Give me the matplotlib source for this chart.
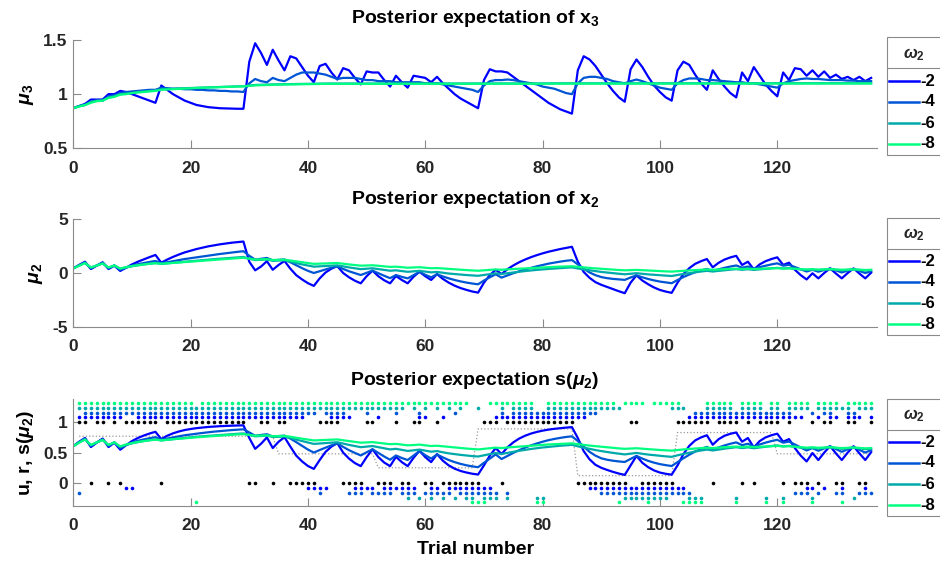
import numpy as np
import matplotlib
matplotlib.use('Agg')
import matplotlib.pyplot as plt
from matplotlib.lines import Line2D
from matplotlib.patches import Rectangle

# ---------------- data ----------------
omega_labels = ['-2', '-4', '-6', '-8']
series_colors = [(0, 0, 1), (0, 1/3, 5/6), (0, 2/3, 2/3), (0, 1, 0.5)]

# trajectory time points 0..136
t_traj = list(range(0, 137))
# trial numbers 1..136
trials = list(range(1, 137))

mu3_w2 = [0.87,
 0.89, 0.91, 0.95, 0.95, 0.95, 1.0, 1.0, 1.03, 1.02, 1.0,
 0.98, 0.96, 0.94, 0.92, 1.08, 1.04, 1.0, 0.97, 0.94, 0.92,
 0.9, 0.89, 0.88, 0.875, 0.87, 0.868, 0.866, 0.865, 0.865, 1.3,
 1.47, 1.38, 1.27, 1.41, 1.31, 1.22, 1.35, 1.33, 1.25, 1.17,
 1.11, 1.26, 1.28, 1.2, 1.135, 1.24, 1.22, 1.15, 1.09, 1.21,
 1.2, 1.2, 1.13, 1.07, 1.17, 1.11, 1.06, 1.17, 1.16, 1.15,
 1.11, 1.16, 1.1, 1.05, 1.0, 0.96, 0.93, 0.9, 0.87, 1.13,
 1.23, 1.21, 1.21, 1.2, 1.16, 1.12, 1.08, 1.04, 1.0, 0.96,
 0.92, 0.89, 0.86, 0.84, 0.82, 1.22, 1.35, 1.32, 1.26, 1.18,
 1.1, 1.03, 0.97, 0.93, 1.23, 1.32, 1.25, 1.16, 1.08, 1.02,
 0.97, 0.94, 1.22, 1.3, 1.27, 1.18, 1.1, 1.04, 1.22, 1.14,
 1.07, 1.01, 0.97, 1.2, 1.12, 1.25, 1.17, 1.09, 1.03, 0.98,
 1.2, 1.13, 1.24, 1.23, 1.17, 1.22, 1.16, 1.21, 1.15, 1.18,
 1.14, 1.16, 1.13, 1.16, 1.12, 1.15]

mu3_w4 = [0.87,
 0.89, 0.9, 0.93, 0.94, 0.94, 0.98, 0.99, 1.01, 1.02, 1.025,
 1.03, 1.035, 1.04, 1.04, 1.06, 1.055, 1.05, 1.05, 1.045, 1.045,
 1.04, 1.04, 1.035, 1.035, 1.03, 1.03, 1.025, 1.025, 1.02, 1.1,
 1.14, 1.12, 1.11, 1.15, 1.13, 1.12, 1.15, 1.18, 1.2, 1.2,
 1.2, 1.19, 1.18, 1.16, 1.14, 1.15, 1.15, 1.15, 1.14, 1.13,
 1.13, 1.12, 1.12, 1.12, 1.11, 1.11, 1.11, 1.11, 1.11, 1.1,
 1.1, 1.1, 1.09, 1.08, 1.07, 1.06, 1.05, 1.04, 1.02, 1.08,
 1.12, 1.13, 1.13, 1.135, 1.13, 1.12, 1.11, 1.1, 1.09, 1.07,
 1.06, 1.05, 1.03, 1.01, 1.0, 1.1, 1.15, 1.16, 1.16, 1.15,
 1.14, 1.12, 1.11, 1.1, 1.12, 1.135, 1.12, 1.1, 1.08, 1.06,
 1.05, 1.04, 1.1, 1.13, 1.145, 1.145, 1.14, 1.13, 1.13, 1.125,
 1.12, 1.115, 1.11, 1.11, 1.1, 1.1, 1.09, 1.08, 1.07, 1.06,
 1.1, 1.12, 1.13, 1.14, 1.145, 1.14, 1.14, 1.135, 1.13, 1.13,
 1.13, 1.125, 1.125, 1.12, 1.12, 1.12]

mu3_w6 = [0.87,
 0.89, 0.9, 0.93, 0.94, 0.94, 0.97, 0.98, 1.0, 1.005, 1.01,
 1.02, 1.025, 1.03, 1.035, 1.045, 1.048, 1.05, 1.053, 1.055, 1.058,
 1.06, 1.062, 1.064, 1.066, 1.068, 1.07, 1.071, 1.072, 1.073, 1.08,
 1.085, 1.087, 1.088, 1.09, 1.091, 1.092, 1.094, 1.095, 1.096, 1.097,
 1.098, 1.098, 1.098, 1.098, 1.098, 1.098, 1.098, 1.098, 1.098, 1.098,
 1.098, 1.098, 1.098, 1.098, 1.098, 1.098, 1.098, 1.098, 1.098, 1.098,
 1.099, 1.099, 1.099, 1.099, 1.099, 1.099, 1.099, 1.099, 1.099, 1.099,
 1.099, 1.099, 1.099, 1.099, 1.099, 1.099, 1.099, 1.099, 1.099, 1.099,
 1.1, 1.1, 1.1, 1.1, 1.1, 1.1, 1.1, 1.1, 1.1, 1.1,
 1.1, 1.1, 1.1, 1.1, 1.1, 1.1, 1.1, 1.1, 1.1, 1.1,
 1.101, 1.101, 1.101, 1.101, 1.101, 1.101, 1.101, 1.101, 1.101, 1.101,
 1.101, 1.101, 1.101, 1.101, 1.101, 1.101, 1.101, 1.101, 1.101, 1.101,
 1.101, 1.101, 1.101, 1.101, 1.101, 1.101, 1.101, 1.101, 1.101, 1.101,
 1.101, 1.101, 1.101, 1.101, 1.101, 1.101]

mu3_w8 = [0.87,
 0.885, 0.9, 0.92, 0.935, 0.94, 0.965, 0.975, 0.995, 1.0, 1.01,
 1.015, 1.02, 1.025, 1.03, 1.04, 1.043, 1.046, 1.049, 1.052, 1.055,
 1.057, 1.059, 1.061, 1.063, 1.065, 1.067, 1.069, 1.07, 1.072, 1.077,
 1.081, 1.083, 1.085, 1.087, 1.088, 1.089, 1.091, 1.092, 1.093, 1.094,
 1.095, 1.095, 1.095, 1.095, 1.095, 1.095, 1.095, 1.095, 1.095, 1.095,
 1.095, 1.095, 1.095, 1.095, 1.095, 1.095, 1.095, 1.095, 1.095, 1.095,
 1.096, 1.096, 1.096, 1.096, 1.096, 1.096, 1.096, 1.096, 1.096, 1.096,
 1.096, 1.096, 1.096, 1.096, 1.096, 1.096, 1.096, 1.096, 1.096, 1.096,
 1.097, 1.097, 1.097, 1.097, 1.097, 1.097, 1.097, 1.097, 1.097, 1.097,
 1.097, 1.097, 1.097, 1.097, 1.097, 1.097, 1.097, 1.097, 1.097, 1.097,
 1.098, 1.098, 1.098, 1.098, 1.098, 1.098, 1.098, 1.098, 1.098, 1.098,
 1.098, 1.098, 1.098, 1.098, 1.098, 1.098, 1.098, 1.098, 1.098, 1.098,
 1.098, 1.098, 1.098, 1.098, 1.098, 1.098, 1.098, 1.098, 1.098, 1.098,
 1.098, 1.098, 1.098, 1.098, 1.098, 1.098]

mu2_w2 = [0.43,
 0.75, 1.05, 0.37, 0.68, 1.0, 0.37, 0.68, 0.19, 0.5, 0.8,
 1.05, 1.27, 1.48, 1.68, 0.96, 1.25, 1.5, 1.72, 1.92, 2.08,
 2.23, 2.36, 2.48, 2.58, 2.67, 2.75, 2.82, 2.88, 2.93, 1.05,
 0.25, 0.6, 1.1, 0.3, 0.75, 1.12, 0.4, -0.2, -0.6, -0.95,
 -1.2, -0.5, 0.05, 0.4, 0.65, 0.0, -0.4, -0.72, -0.96, -0.3,
 0.22, -0.3, -0.68, -0.96, -0.28, -0.65, -0.96, -0.35, 0.12, -0.3,
 -0.65, -0.1, -0.55, -0.9, -1.18, -1.4, -1.57, -1.72, -1.83, -0.9,
 -0.2, 0.3, -0.1, 0.35, 0.7, 1.0, 1.25, 1.47, 1.66, 1.83,
 1.98, 2.11, 2.23, 2.34, 2.44, 1.05, 0.1, -0.45, -0.85, -1.1,
 -1.3, -1.5, -1.7, -1.88, -0.9, -0.22, -0.7, -1.05, -1.35, -1.58,
 -1.73, -1.85, -0.9, -0.1, 0.45, 0.85, 1.1, 1.3, 0.53, 0.95,
 1.25, 1.45, 1.6, 0.75, 1.05, 0.34, 0.8, 1.1, 1.3, 1.46,
 0.75, 0.96, 0.3, -0.2, -0.6, -0.03, -0.5, 0.0, 0.43, -0.05,
 -0.5, 0.0, 0.43, -0.05, -0.5, 0.03]

mu2_w4 = [0.43,
 0.72, 0.98, 0.45, 0.7, 0.95, 0.45, 0.7, 0.3, 0.5, 0.68,
 0.82, 0.93, 1.03, 1.12, 0.92, 1.0, 1.1, 1.2, 1.3, 1.38,
 1.46, 1.54, 1.62, 1.7, 1.77, 1.84, 1.91, 1.97, 2.03, 1.6,
 1.25, 1.33, 1.4, 1.18, 1.22, 1.26, 1.0, 0.72, 0.45, 0.2,
 0.0, 0.17, 0.33, 0.49, 0.62, 0.38, 0.16, -0.02, -0.19, 0.02,
 0.22, -0.02, -0.26, -0.48, -0.19, -0.36, -0.5, -0.2, 0.1, -0.17,
 -0.4, -0.12, -0.32, -0.5, -0.65, -0.78, -0.89, -0.98, -1.05, -0.7,
 -0.4, -0.12, -0.43, -0.22, -0.02, 0.16, 0.33, 0.48, 0.62, 0.75,
 0.87, 0.97, 1.06, 1.14, 1.2, 0.8, 0.4, 0.05, -0.2, -0.38,
 -0.48, -0.55, -0.6, -0.64, -0.42, -0.22, -0.4, -0.56, -0.69, -0.8,
 -0.88, -0.95, -0.65, -0.38, -0.14, 0.07, 0.24, 0.38, 0.18, 0.34,
 0.48, 0.6, 0.7, 0.5, 0.6, 0.4, 0.55, 0.68, 0.8, 0.9,
 0.68, 0.76, 0.55, 0.34, 0.14, 0.3, 0.12, 0.28, 0.42, 0.23,
 0.05, 0.22, 0.37, 0.18, 0.0, 0.17]

mu2_w6 = [0.43,
 0.7, 0.95, 0.5, 0.7, 0.9, 0.5, 0.7, 0.38, 0.52, 0.63,
 0.72, 0.8, 0.87, 0.93, 0.85, 0.9, 0.96, 1.01, 1.06, 1.11,
 1.16, 1.2, 1.25, 1.29, 1.33, 1.37, 1.41, 1.45, 1.49, 1.33,
 1.2, 1.23, 1.26, 1.14, 1.16, 1.18, 1.05, 0.92, 0.8, 0.69,
 0.59, 0.62, 0.65, 0.68, 0.71, 0.61, 0.52, 0.44, 0.36, 0.4,
 0.44, 0.36, 0.28, 0.21, 0.25, 0.18, 0.11, 0.15, 0.2, 0.13,
 0.06, 0.1, 0.02, -0.05, -0.1, -0.15, -0.19, -0.23, -0.26, -0.18,
 -0.1, -0.03, -0.09, -0.02, 0.05, 0.12, 0.18, 0.24, 0.29, 0.34,
 0.38, 0.42, 0.46, 0.49, 0.52, 0.42, 0.33, 0.25, 0.17, 0.1,
 0.04, -0.02, -0.07, -0.12, -0.07, -0.02, -0.08, -0.13, -0.17, -0.21,
 -0.25, -0.28, -0.18, -0.09, -0.01, 0.07, 0.14, 0.2, 0.14, 0.2,
 0.26, 0.31, 0.36, 0.3, 0.35, 0.29, 0.34, 0.39, 0.44, 0.48,
 0.42, 0.45, 0.39, 0.33, 0.28, 0.32, 0.27, 0.31, 0.35, 0.3,
 0.25, 0.29, 0.33, 0.28, 0.23, 0.27]

mu2_w8 = [0.43,
 0.68, 0.92, 0.52, 0.7, 0.88, 0.52, 0.7, 0.42, 0.55, 0.65,
 0.73, 0.8, 0.86, 0.91, 0.86, 0.9, 0.95, 0.99, 1.03, 1.07,
 1.11, 1.15, 1.19, 1.23, 1.27, 1.31, 1.35, 1.38, 1.42, 1.33,
 1.25, 1.27, 1.29, 1.21, 1.23, 1.24, 1.16, 1.07, 0.99, 0.92,
 0.85, 0.87, 0.89, 0.91, 0.93, 0.86, 0.8, 0.74, 0.68, 0.7,
 0.72, 0.67, 0.62, 0.57, 0.59, 0.54, 0.49, 0.51, 0.54, 0.49,
 0.44, 0.46, 0.42, 0.38, 0.34, 0.3, 0.27, 0.24, 0.21, 0.25,
 0.29, 0.33, 0.3, 0.34, 0.37, 0.4, 0.43, 0.46, 0.49, 0.52,
 0.55, 0.57, 0.59, 0.61, 0.63, 0.57, 0.52, 0.47, 0.43, 0.39,
 0.35, 0.31, 0.28, 0.25, 0.27, 0.29, 0.26, 0.23, 0.2, 0.17,
 0.15, 0.13, 0.17, 0.21, 0.24, 0.27, 0.3, 0.33, 0.3, 0.33,
 0.36, 0.38, 0.4, 0.37, 0.4, 0.37, 0.39, 0.41, 0.43, 0.45,
 0.41, 0.43, 0.39, 0.36, 0.33, 0.35, 0.32, 0.34, 0.36, 0.33,
 0.3, 0.32, 0.34, 0.31, 0.28, 0.3]

# inputs u (trials 1..136)
u_inputs = [1, 1, 0, 1, 1, 0, 1, 0, 1, 1,
            1, 1, 1, 1, 0, 1, 1, 1, 1, 1,
            1, 1, 1, 1, 1, 1, 1, 1, 1, 0,
            0, 1, 1, 0, 1, 1, 0, 0, 0, 0,
            0, 1, 1, 1, 1, 0, 0, 0, 0, 1,
            1, 0, 0, 0, 1, 0, 0, 1, 1, 0,
            0, 1, 0, 0, 0, 0, 0, 0, 0, 1,
            1, 1, 0, 1, 1, 1, 1, 1, 1, 1,
            1, 1, 1, 1, 1, 0, 0, 0, 0, 0,
            0, 0, 0, 0, 1, 1, 0, 0, 0, 0,
            0, 0, 1, 1, 1, 1, 1, 1, 0, 1,
            1, 1, 1, 0, 1, 0, 1, 1, 1, 1,
            0, 1, 0, 0, 0, 1, 0, 1, 1, 0,
            0, 1, 1, 0, 0, 1]

# simulated responses per omega (trials 1..136)
resp_w2 = [1, 1, 1, 1, 1, 1, 1, 1, 0, 0,
           1, 1, 1, 1, 1, 1, 1, 1, 1, 1,
           1, 1, 1, 1, 1, 1, 1, 1, 1, 1,
           1, 1, 1, 1, 1, 1, 1, 1, 1, 0,
           0, 0, 0, 1, 1, 1, 1, 0, 0, 0,
           0, 1, 0, 0, 0, 0, 0, 0, 1, 1,
           0, 0, 1, 0, 0, 0, 0, 0, 0, 0,
           0, 1, 1, 1, 1, 1, 1, 1, 1, 1,
           1, 1, 1, 1, 1, 1, 1, 0, 0, 0,
           0, 0, 0, 0, 0, 0, 0, 0, 0, 0,
           0, 0, 0, 0, 1, 1, 1, 1, 1, 1,
           1, 1, 1, 1, 1, 1, 1, 1, 1, 1,
           1, 1, 1, 1, 0, 0, 1, 0, 1, 1,
           0, 1, 1, 1, 0, 1]
resp_w4 = [0, 1, 1, 1, 1, 1, 1, 1, 1, 1,
           1, 1, 1, 1, 1, 1, 1, 1, 1, 1,
           1, 1, 1, 1, 1, 1, 1, 1, 1, 1,
           1, 1, 1, 1, 1, 1, 1, 1, 1, 1,
           1, 0, 1, 1, 1, 1, 0, 0, 0, 1,
           0, 0, 0, 0, 1, 0, 0, 0, 1, 0,
           0, 0, 0, 0, 1, 0, 0, 0, 0, 0,
           0, 0, 1, 0, 1, 1, 1, 1, 1, 1,
           1, 1, 1, 1, 1, 1, 1, 1, 1, 0,
           0, 0, 0, 0, 0, 0, 0, 0, 0, 0,
           0, 0, 0, 0, 0, 1, 1, 1, 1, 1,
           1, 1, 1, 1, 1, 1, 1, 1, 1, 1,
           1, 1, 0, 0, 0, 1, 0, 1, 1, 0,
           0, 1, 1, 0, 0, 0]
resp_w6 = [1, 1, 1, 1, 1, 1, 1, 1, 1, 1,
           1, 1, 1, 1, 1, 1, 1, 1, 1, 1,
           1, 1, 1, 1, 1, 1, 1, 1, 1, 1,
           1, 1, 1, 1, 1, 1, 1, 1, 1, 1,
           1, 1, 1, 1, 1, 1, 1, 1, 1, 1,
           1, 1, 1, 1, 1, 1, 0, 1, 0, 1,
           0, 1, 0, 1, 0, 1, 0, 0, 1, 0,
           0, 0, 1, 0, 1, 1, 1, 1, 0, 0,
           1, 1, 1, 1, 1, 1, 1, 1, 1, 1,
           1, 1, 1, 0, 0, 0, 0, 0, 0, 0,
           0, 1, 1, 1, 0, 0, 0, 1, 1, 1,
           1, 1, 0, 1, 1, 1, 1, 0, 1, 1,
           0, 1, 1, 1, 1, 0, 1, 1, 1, 1,
           1, 1, 0, 1, 1, 1]
resp_w8 = [1, 1, 1, 1, 1, 1, 1, 1, 1, 1,
           1, 1, 1, 1, 1, 1, 1, 1, 1, 1,
           0, 1, 1, 1, 1, 1, 1, 1, 1, 1,
           1, 1, 1, 1, 1, 1, 1, 1, 1, 1,
           1, 1, 1, 1, 1, 1, 1, 1, 1, 1,
           1, 1, 1, 1, 1, 1, 1, 1, 1, 1,
           1, 1, 1, 1, 1, 1, 1, 0, 0, 0,
           1, 1, 1, 1, 1, 1, 1, 1, 0, 0,
           1, 1, 1, 1, 1, 1, 1, 1, 1, 1,
           1, 1, 0, 1, 1, 1, 1, 0, 1, 1,
           1, 1, 1, 0, 0, 0, 0, 1, 1, 1,
           1, 1, 0, 1, 1, 1, 1, 0, 1, 1,
           0, 1, 1, 1, 1, 0, 1, 1, 1, 1,
           0, 1, 1, 1, 1, 1]

# true outcome probability (grey dotted), trials 1..136
true_prob = ([0.77] * 34 + [0.48] * 17 + [0.25] * 17 + [0.89] * 17
             + [0.12] * 17 + [0.83] * 17 + [0.48] * 17)

mu3_all = [mu3_w2, mu3_w4, mu3_w6, mu3_w8]
mu2_all = [mu2_w2, mu2_w4, mu2_w6, mu2_w8]
resp_all = [resp_w2, resp_w4, resp_w6, resp_w8]
for a in mu3_all + mu2_all:
    assert len(a) == len(t_traj), len(a)
for a in resp_all + [u_inputs, true_prob]:
    assert len(a) == len(trials), len(a)

# ---------------- style ----------------
plt.rcParams['font.family'] = ['Liberation Sans', 'DejaVu Sans']
plt.rcParams['font.weight'] = 'bold'
plt.rcParams['axes.labelweight'] = 'bold'
plt.rcParams['axes.titleweight'] = 'bold'
plt.rcParams['mathtext.fontset'] = 'custom'
plt.rcParams['mathtext.rm'] = 'Liberation Sans:bold'
plt.rcParams['mathtext.bf'] = 'Liberation Sans:bold'
plt.rcParams['mathtext.it'] = 'Liberation Sans:italic'

AX_COL = '#8a8a8a'
TXT_COL = '#262626'
W, H = 940, 564

fig = plt.figure(figsize=(9.4, 5.64), dpi=100)

def fx(x):
    return x / W

def fy(y):
    return 1 - y / H

def px_axes(left, top, right, bottom):
    return fig.add_axes([left / W, 1 - bottom / H, (right - left) / W, (bottom - top) / H])

ax1 = px_axes(73.3, 40.0, 877.0, 148.3)
ax2 = px_axes(73.3, 219.3, 877.0, 326.7)
ax3 = px_axes(73.3, 399.2, 877.0, 506.0)

def style(ax):
    for s in ['top', 'right']:
        ax.spines[s].set_visible(False)
    for s in ['left', 'bottom']:
        ax.spines[s].set_color(AX_COL)
        ax.spines[s].set_linewidth(0.8)
    ax.tick_params(direction='in', length=5.8, width=0.8, color=AX_COL,
                   labelsize=12.5, labelcolor=TXT_COL)
    ax.tick_params(axis='x', pad=9)
    ax.tick_params(axis='y', pad=4)
    ax.set_xlim(0, 137)
    ax.set_xticks([0, 20, 40, 60, 80, 100, 120])

def add_legend(top):
    """MATLAB-style legend box with a title row, anchored at pixel row `top`."""
    sep = top + 31.0
    bottom = top + 117.7
    rows = [top + 43.7, top + 64.2, top + 85.7, top + 106.7]
    fig.add_artist(Rectangle((fx(886.7), fy(bottom)), (990 - 886.7) / W, (bottom - top) / H,
                             transform=fig.transFigure, facecolor='white',
                             edgecolor=AX_COL, lw=0.8, zorder=5))
    fig.add_artist(Line2D([fx(886.7), fx(990)], [fy(sep), fy(sep)],
                          transform=fig.transFigure, color=AX_COL, lw=0.8, zorder=6))
    fig.text(fx(913.5), fy((top + sep) / 2 + 1.5), r'$\omega_2$', ha='center', va='center',
             fontsize=12, color=TXT_COL, zorder=7)
    for y, c, lab in zip(rows, series_colors, omega_labels):
        fig.add_artist(Line2D([fx(889), fx(919)], [fy(y), fy(y)],
                              transform=fig.transFigure, color=c, lw=1.8, zorder=7))
        fig.text(fx(920.5), fy(y), lab, ha='left', va='center', fontsize=12,
                 fontweight='bold', color='black', zorder=7)

# Panel 1
for mu3, c in zip(mu3_all, series_colors):
    ax1.plot(t_traj, mu3, color=c, lw=1.6)
style(ax1)
ax1.set_ylim(0.5, 1.5)
ax1.set_yticks([0.5, 1, 1.5])
ax1.set_yticklabels(['0.5', '1', '1.5'])
ax1.set_title(r'Posterior expectation of $\mathrm{x}_3$', fontsize=14, fontweight='bold', pad=12)
ax1.set_ylabel(r'$\mu_3$', fontsize=14, fontweight='bold')
ax1.yaxis.set_label_coords(-0.047, 0.5)
add_legend(37.3)

# Panel 2
for mu2, c in zip(mu2_all, series_colors):
    ax2.plot(t_traj, mu2, color=c, lw=1.6)
style(ax2)
ax2.set_ylim(-5, 5)
ax2.set_yticks([-5, 0, 5])
ax2.set_yticklabels(['-5', '0', '5'])
ax2.set_title(r'Posterior expectation of $\mathrm{x}_2$', fontsize=14, fontweight='bold', pad=11)
ax2.set_ylabel(r'$\mu_2$', fontsize=14, fontweight='bold')
ax2.yaxis.set_label_coords(-0.035, 0.5)
add_legend(217.7)

# Panel 3
ax3.plot(trials, true_prob, ':', color='#9a9a9a', lw=0.9)
for mu2, c in zip(mu2_all, series_colors):
    s = 1.0 / (1.0 + np.exp(-np.asarray(mu2)))
    ax3.plot(t_traj, s, color=c, lw=1.6)
for k, (r, c) in enumerate(zip(resp_all, series_colors), start=1):
    r = np.asarray(r)
    y = np.where(r == 1, 1 + 0.08 * k, -0.08 * k)
    ax3.plot(trials, y, 'o', ms=2.6, mew=0, color=c)
ax3.plot(trials, u_inputs, 'o', ms=2.6, mew=0, color='black')
style(ax3)
ax3.set_ylim(-0.38, 1.38)
ax3.set_yticks([0, 0.5, 1])
ax3.set_yticklabels(['0', '0.5', '1'])
ax3.set_title(r'Posterior expectation s($\mu_2$)', fontsize=14, fontweight='bold', pad=10)
ax3.set_ylabel(r'u, r, s($\mu_2$)', fontsize=14, fontweight='bold')
ax3.yaxis.set_label_coords(-0.047, 0.5)
ax3.set_xlabel('Trial number', fontsize=14, fontweight='bold')
ax3.xaxis.set_label_coords(0.5, -0.325)
add_legend(398.7)

fig.savefig('out.png', dpi=100)
